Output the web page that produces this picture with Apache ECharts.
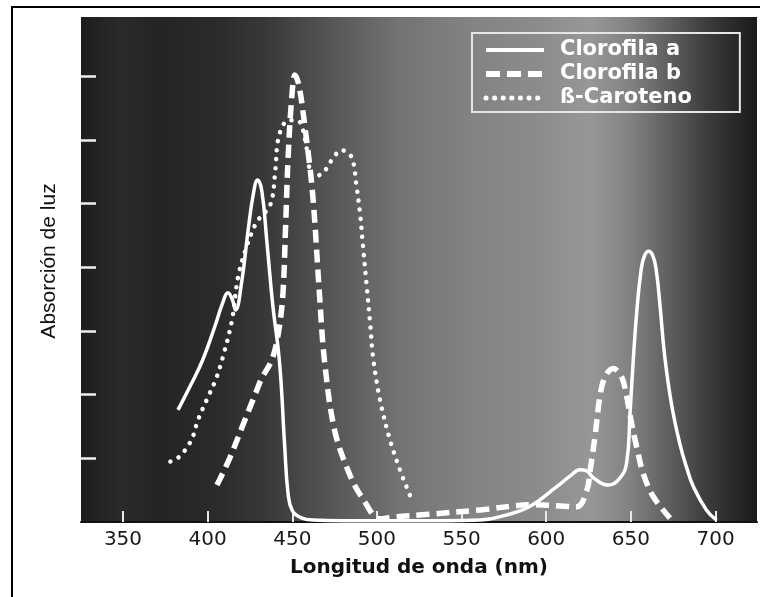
<!DOCTYPE html>
<html>
<head>
<meta charset="utf-8">
<title>Absorción de luz</title>
<script src="https://cdn.jsdelivr.net/npm/echarts@6/dist/echarts.min.js"></script>
<style>
  html, body { margin: 0; padding: 0; background: #fff; }
  #main { width: 760px; height: 597px; }
</style>
</head>
<body>
<div id="main"></div>
<script>
// wavelengths (nm) and absorption
var chlANm = [382.5, 390, 397, 404, 409, 412, 414.5, 416.5, 420, 424, 427, 429.5, 432, 435, 438.5, 442.5, 445.5, 447.5, 450, 455, 462, 480, 520, 540, 561, 575, 590, 606, 614, 620, 624, 628, 636.5, 643.5, 647.5, 649.5, 651.3, 653.4, 656, 658, 660.5, 663, 665, 667.2, 670, 674, 679, 683, 687, 694.6, 700.6];
var chlAVal = [1.76, 2.15, 2.54, 3.05, 3.45, 3.6, 3.5, 3.33, 3.75, 4.6, 5.15, 5.37, 5.2, 4.4, 3.4, 2.5, 1.2, 0.45, 0.18, 0.07, 0.03, 0.02, 0.02, 0.02, 0.03, 0.1, 0.24, 0.55, 0.72, 0.82, 0.8, 0.69, 0.58, 0.69, 0.93, 1.71, 2.5, 3.28, 3.95, 4.18, 4.25, 4.18, 3.95, 3.4, 2.6, 1.85, 1.22, 0.85, 0.55, 0.19, 0.03];

var chlBNm = [405.5, 413, 422, 428, 432, 438, 442, 444.5, 446, 447.5, 449.5, 451.6, 454, 457.5, 462, 466, 469, 475, 484, 492, 501.8, 510, 530, 561, 592, 618, 624, 626, 628.8, 631.7, 634.7, 639.6, 644.5, 647.5, 650.4, 653.4, 657.3, 663.2, 673.1];
var chlBVal = [0.58, 1.0, 1.6, 2.0, 2.26, 2.55, 3.0, 3.6, 4.6, 5.7, 6.6, 7.02, 6.85, 6.2, 5.16, 3.6, 2.54, 1.44, 0.74, 0.35, 0.05, 0.08, 0.12, 0.19, 0.27, 0.24, 0.5, 0.82, 1.34, 1.97, 2.28, 2.41, 2.28, 1.97, 1.55, 1.18, 0.76, 0.4, 0.06];

var carNm = [378, 382, 385, 388, 391, 394.3, 400, 405, 409, 414.4, 418, 423, 429, 437, 440, 441.6, 445.7, 450, 454.5, 458.7, 462, 468, 474, 479, 485, 488, 490, 491.8, 494, 496, 497.7, 501.8, 507.7, 513.6, 519.5];
var carVal = [0.95, 1.0, 1.07, 1.18, 1.32, 1.6, 1.95, 2.25, 2.59, 3.17, 3.85, 4.32, 4.71, 4.98, 5.53, 6.0, 6.28, 6.31, 6.28, 5.84, 5.42, 5.48, 5.71, 5.84, 5.73, 5.26, 4.85, 4.32, 3.69, 3.12, 2.59, 1.92, 1.29, 0.82, 0.42];

var seriesNames = ['Clorofila a', 'Clorofila b', 'ß-Caroteno'];
var xTicks = [350, 400, 450, 500, 550, 600, 650, 700];
var yTicks = [1, 2, 3, 4, 5, 6, 7];

function pairs(xs, ys) {
    var out = [];
    for (var i = 0; i < xs.length; i++) {
        out.push([xs[i], ys[i]]);
    }
    return out;
}

var solidLine = {color: '#ffffff', width: 3.5};
var dashLine = {color: '#ffffff', width: 5.5, type: [13, 7]};
var dotLine = {color: '#ffffff', width: 4.5, type: [0.1, 9], cap: 'round'};

var chart = echarts.init(document.getElementById('main'), null, {renderer: 'canvas'});

// grey "spectrum" behind the curves
var bg = {
    type: 'linear', x: 0, y: 0, x2: 1, y2: 0,
    colorStops: [
        {offset: 0, color: '#1d1d1d'},
        {offset: 0.058, color: '#2a2a2a'},
        {offset: 0.117, color: '#242424'},
        {offset: 0.206, color: '#2b2b2b'},
        {offset: 0.28, color: '#3a3a3a'},
        {offset: 0.368, color: '#555555'},
        {offset: 0.472, color: '#737373'},
        {offset: 0.575, color: '#838383'},
        {offset: 0.679, color: '#8c8c8c'},
        {offset: 0.753, color: '#979797'},
        {offset: 0.812, color: '#828282'},
        {offset: 0.871, color: '#5e5e5e'},
        {offset: 0.93, color: '#3a3a3a'},
        {offset: 1, color: '#1a1a1a'}
    ]
};

var option = {
    animation: false,
    grid: {
        left: 81, right: 3, top: 17, bottom: 75,
        show: true,
        backgroundColor: bg,
        borderWidth: 0,
        outerBoundsMode: 'none'
    },
    legend: {
        data: [
            {name: seriesNames[0], lineStyle: {width: 4, type: 'solid'}},
            {name: seriesNames[1], lineStyle: {width: 6, type: [14, 7]}},
            {name: seriesNames[2], lineStyle: {width: 5, type: [0.1, 8.5], cap: 'round'}}
        ],
        orient: 'vertical',
        left: 472,
        top: 33,
        padding: [5, 48, 2, 11],
        itemWidth: 58,
        itemHeight: 14,
        itemGap: 0,
        itemStyle: {opacity: 0},
        borderColor: '#e6e6e6',
        borderWidth: 2,
        textStyle: {
            color: '#fff', fontSize: 21, fontWeight: 'bold', fontFamily: 'DejaVu Sans',
            lineHeight: 24, padding: [0, 0, 0, 11]
        }
    },
    xAxis: {
        type: 'value',
        min: 325.2,
        max: 724.5,
        name: 'Longitud de onda (nm)',
        nameLocation: 'middle',
        nameGap: 36,
        nameTextStyle: {color: '#111', fontSize: 20, fontWeight: 'bold', fontFamily: 'DejaVu Sans'},
        axisLine: {show: true, onZero: false, lineStyle: {color: '#111', width: 2}},
        axisTick: {show: true, inside: true, length: 11, customValues: xTicks, lineStyle: {color: '#e8e8e8', width: 2}},
        axisLabel: {customValues: xTicks, color: '#1a1a1a', fontSize: 20, fontFamily: 'DejaVu Sans', margin: 8},
        splitLine: {show: false}
    },
    yAxis: {
        type: 'value',
        min: 0,
        max: 7.93,
        axisLine: {show: false},
        axisTick: {show: true, inside: true, length: 15, customValues: yTicks, lineStyle: {color: '#f0f0f0', width: 2.5}},
        axisLabel: {show: false},
        splitLine: {show: false}
    },
    graphic: [
        {
            type: 'rect',
            silent: true,
            shape: {x: 12, y: 7, width: 770, height: 620},
            style: {fill: null, stroke: '#000', lineWidth: 2}
        },
        {
            type: 'text',
            silent: true,
            x: 49,
            y: 261,
            rotation: Math.PI / 2,
            style: {
                text: 'Absorción de luz',
                fill: '#111',
                font: '21px "Liberation Sans Narrow", "Liberation Sans", sans-serif',
                align: 'center',
                verticalAlign: 'middle'
            }
        }
    ],
    series: [
        {
            name: seriesNames[0],
            type: 'line',
            data: pairs(chlANm, chlAVal),
            symbol: 'none',
            smooth: 0.45,
            itemStyle: {color: '#ffffff'},
            lineStyle: solidLine
        },
        {
            name: seriesNames[1],
            type: 'line',
            data: pairs(chlBNm, chlBVal),
            symbol: 'none',
            smooth: 0.35,
            itemStyle: {color: '#ffffff'},
            lineStyle: dashLine
        },
        {
            name: seriesNames[2],
            type: 'line',
            data: pairs(carNm, carVal),
            symbol: 'none',
            smooth: 0.35,
            itemStyle: {color: '#ffffff'},
            lineStyle: dotLine
        }
    ]
};

chart.setOption(option);
</script>
</body>
</html>
